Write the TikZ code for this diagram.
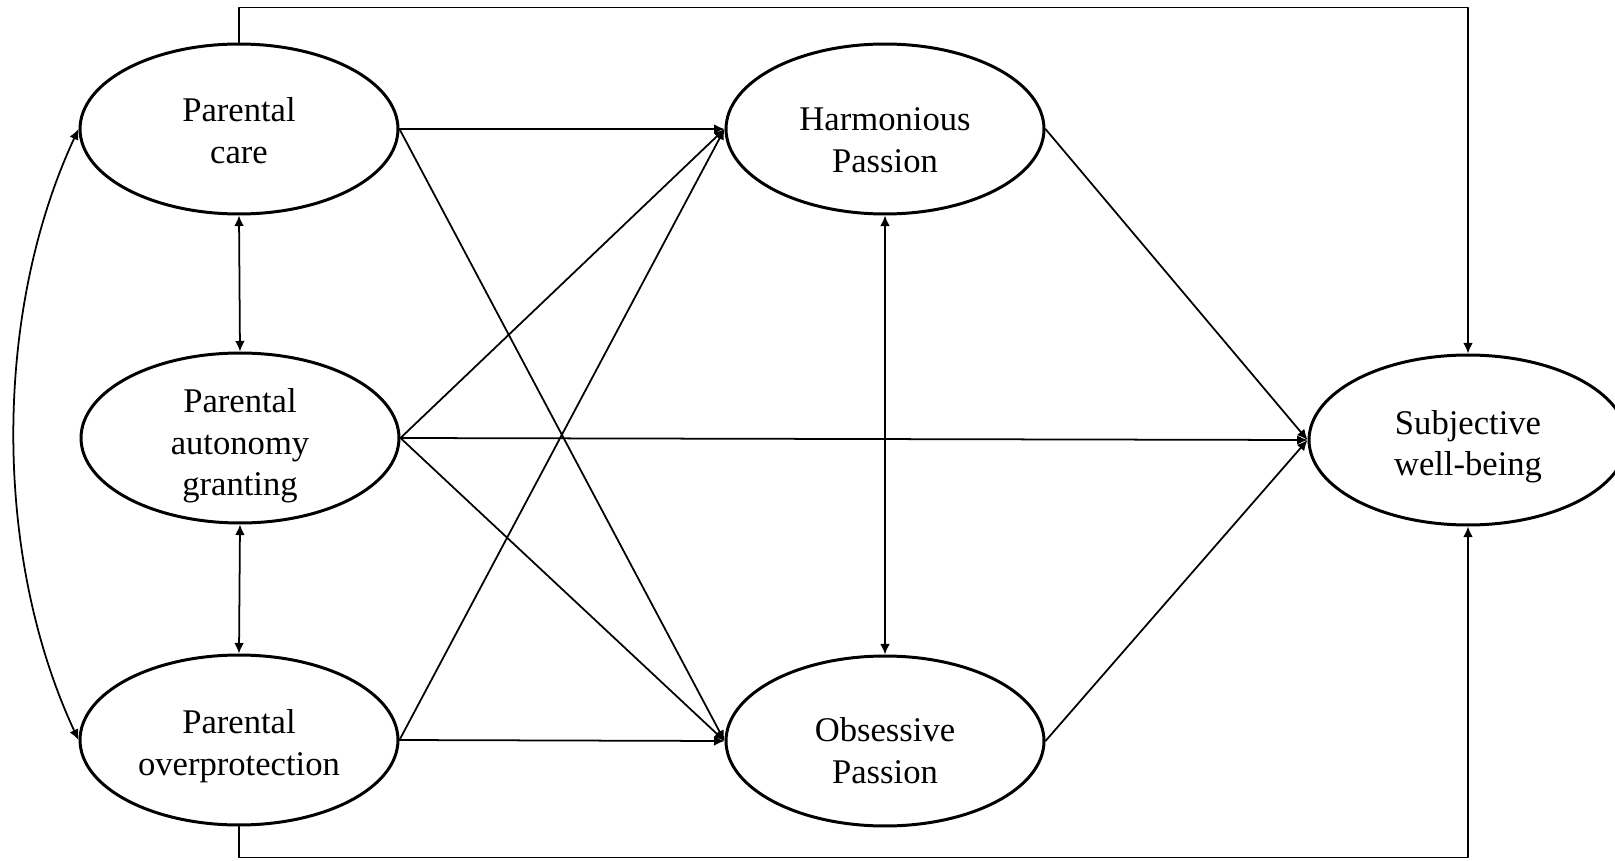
\documentclass[tikz,border=0pt]{standalone}
\usepackage{fontspec}
\setmainfont{Liberation Serif}
\usetikzlibrary{arrows.meta,shapes.geometric,positioning}

% strut that pushes the label down inside its ellipse
\newcommand{\lowerby}[1]{\rule{0pt}{#1}}

\tikzset{
  latent/.style={ellipse, draw, line width=1.7pt, inner sep=0pt,
    minimum width=6.36cm, minimum height=3.4cm, align=center,
    font=\fontsize{19.7}{23.8}\selectfont},
  link/.style={line width=1pt, ->},
  covar/.style={line width=1pt, <->}
}

\begin{document}
\begin{tikzpicture}[x=0.02cm, y=0.02cm, >={Latex[length=6pt,width=5.5pt]},
  line cap=round, line join=round]

% --- Canvas (px of the figure) ---
\useasboundingbox (0,0) rectangle (1615,860);

% --- Latent variables ---
\node[latent] (care)  at (239,731) {\lowerby{15.8pt}Parental\\care};
\node[latent, inner ysep=-5pt] (auto) at (240,422)
  {\lowerby{22.6pt}Parental\\autonomy\\granting};
\node[latent] (overp) at (239,120) {\lowerby{20.3pt}Parental\\overprotection};
\node[latent] (harm)  at (885,731) {\lowerby{26pt}Harmonious\\Passion};
\node[latent] (obs)   at (885,119) {\lowerby{24.8pt}Obsessive\\Passion};
\node[latent] (swb)   at (1468,420) {\lowerby{21.4pt}Subjective\\well-being};

% --- Frame corners ---
\coordinate (topline) at (800,852.5);
\coordinate (botline) at (800,2.5);

% --- Parenting -> passion ---
\draw[link] (care.east) -- (harm.west);
\draw[link] (care.east) -- (obs.west);
\draw[link] (auto.east) -- (harm.west);
\draw[link] (auto.east) -- (obs.west);
\draw[link] (overp.east) -- (harm.west);
\draw[link] (overp.east) -- (obs.west);

% --- Paths to well-being ---
\draw[link] (auto.east) -- (swb.west);
\draw[link] (harm.east) -- (swb.west);
\draw[link] (obs.east) -- (swb.west);
\draw[link] (care.north) |- (topline) -| (swb.north);
\draw[link] (overp.south) |- (botline) -| (swb.south);

% --- Covariances ---
\draw[covar] (care.south) -- (auto.north);
\draw[covar] (auto.south) -- (overp.north);
\draw[covar] (harm.south) -- (obs.north);
\draw[covar] (care.west) to[out=245, in=115, looseness=0.85] (overp.west);

\end{tikzpicture}
\end{document}
